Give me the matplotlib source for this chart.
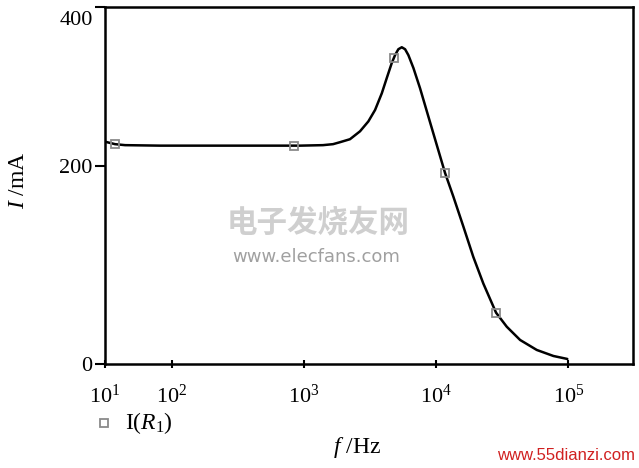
import numpy as np
import matplotlib
matplotlib.use("Agg")
import matplotlib.pyplot as plt
import matplotlib.transforms as mtransforms

# ---- data ----
log_f = [1.495, 1.571, 1.647, 1.912, 2.5, 2.971, 3.144, 3.22, 3.273, 3.348, 3.424,
         3.487, 3.538, 3.589, 3.626, 3.664, 3.689, 3.714, 3.740, 3.765, 3.790,
         3.828, 3.878, 3.941, 4.005, 4.067, 4.130, 4.206, 4.281, 4.357, 4.453,
         4.534, 4.635, 4.761, 4.887, 4.992]
current_mA = [224.5, 222, 221, 220.5, 220.5, 220.5, 221, 222, 224, 227, 235,
              245, 256.6, 273.5, 288.7, 304, 312, 318, 320, 318, 312,
              299, 278.6, 250, 221, 193, 169, 138.6, 108, 81, 51.6,
              37.4, 24, 13.9, 7.8, 4.8]
marker_log_f = [1.571, 2.926, 3.684, 4.067, 4.453]
marker_mA = [222, 220, 309, 193, 51.6]

x_tick_labels = [r"$\mathregular{10^{1}}$", r"$\mathregular{10^{2}}$", r"$\mathregular{10^{3}}$",
                 r"$\mathregular{10^{4}}$", r"$\mathregular{10^{5}}$"]
x_tick_logs = [1.495, 2, 3, 4, 5]
y_tick_labels = ["0", "200", "400"]
x_limits_log = (1.495, 5.489)
y_limits = (0, 361)

freq = [10 ** v for v in log_f]
marker_freq = [10 ** v for v in marker_log_f]

plt.rcParams['font.family'] = ['Liberation Serif', 'DejaVu Serif']
plt.rcParams['mathtext.fontset'] = 'custom'
plt.rcParams['mathtext.rm'] = 'Liberation Serif'
plt.rcParams['mathtext.it'] = 'Liberation Serif:italic'

FS = 16

fig = plt.figure(figsize=(6.39, 4.68), dpi=100)
ax = fig.add_axes([105 / 639, 1 - 363.7 / 468, (633 - 105) / 639, (363.7 - 6.7) / 468])

ax.plot(freq, current_mA, color='black', lw=1.8, solid_joinstyle='round', solid_capstyle='round')
ax.plot(marker_freq, marker_mA, linestyle='none', marker='s', markersize=6,
        markerfacecolor='none', markeredgecolor='#8a8a8a', markeredgewidth=1.3)

ax.set_xscale('log')
ax.set_xlim(10 ** x_limits_log[0], 10 ** x_limits_log[1])
ax.set_ylim(*y_limits)
ax.minorticks_off()

ax.set_xticks([10 ** v for v in x_tick_logs])
ax.set_xticklabels(x_tick_labels, fontsize=FS)
ax.tick_params(axis='x', direction='inout', length=6, width=1.5, pad=12)

ax.set_yticks([0, 200, y_limits[1]])
ax.set_yticklabels(y_tick_labels, fontsize=FS)
ax.tick_params(axis='y', direction='out', length=7, width=1.5, pad=2)
# the "400" label sits a little below the top spine in the reference
lbl400 = ax.get_yticklabels()[2]
lbl400.set_transform(lbl400.get_transform() + mtransforms.ScaledTranslation(0, -11 / 100, fig.dpi_scale_trans))

for s in ax.spines.values():
    s.set_linewidth(1.8)

fig.text(19 / 639, 1 - 180 / 468, r"$\mathit{I}$ /mA", rotation=90, fontsize=FS + 1,
         ha='center', va='center')
fig.text(357 / 639, 1 - 448 / 468, r"$\mathit{f}$ /Hz", fontsize=FS + 1, ha='center', va='center')

# legend
fig.lines.append(plt.Line2D([104 / 639], [1 - 423 / 468], transform=fig.transFigure,
                            marker='s', markersize=6, markerfacecolor='none',
                            markeredgecolor='#8a8a8a', markeredgewidth=1.3, linestyle='none'))
fig.text(125 / 639, 1 - 423 / 468, r"I($\mathit{R}_1$)", fontsize=FS + 1, ha='left', va='center')

# watermarks
fig.text(318 / 639, 1 - 222 / 468, "电子发烧友网", fontsize=22, color='#cfcfcf',
         ha='center', va='center', family=['Noto Sans CJK SC'], style='italic', fontweight='bold')
fig.text(316 / 639, 1 - 257 / 468, "www.elecfans.com", fontsize=13, color='#a0a0a0',
         ha='center', va='center', family=['DejaVu Sans'])
fig.text(635 / 639, 1 - 456 / 468, "www.55dianzi.com", fontsize=12, color='#d02020',
         ha='right', va='center', family=['Liberation Sans'])

fig.savefig("out.png", dpi=100)
